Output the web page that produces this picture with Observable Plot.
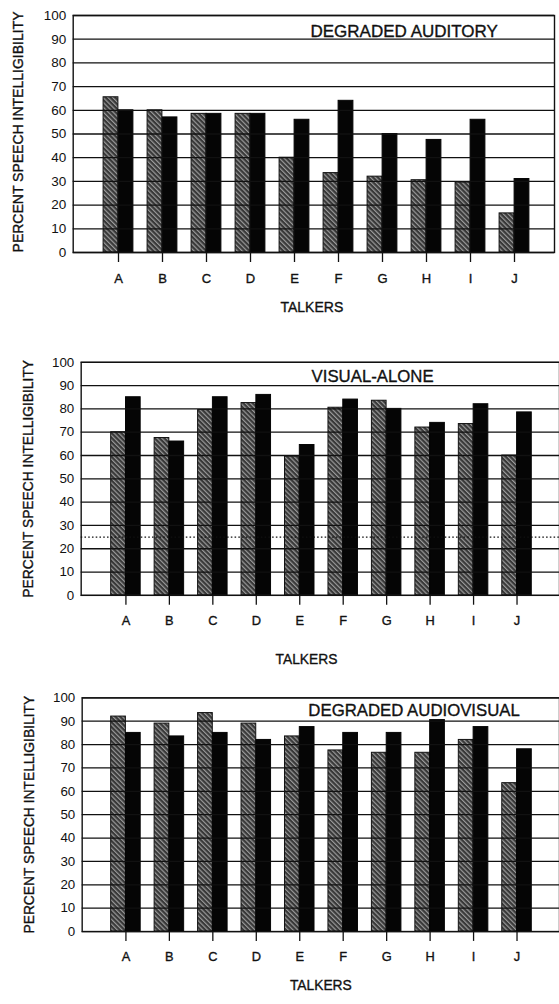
<!DOCTYPE html>
<html>
<head>
<meta charset="utf-8">
<script src="https://cdn.jsdelivr.net/npm/d3@7"></script>
<script src="https://cdn.jsdelivr.net/npm/@observablehq/plot@0.6"></script>
<style>
  html, body { margin: 0; padding: 0; background: #fff; overflow: hidden; width: 559px; }
  #charts svg { display: block; }
  #charts > div { width: 559px; overflow: hidden; }
</style>
</head>
<body>
<svg width="0" height="0" style="position:absolute">
  <defs>
    <pattern id="hatch" patternUnits="userSpaceOnUse" width="3.4" height="3.4" patternTransform="rotate(-45)">
      <rect width="3.4" height="3.4" fill="#383838"></rect>
      <rect width="1.2" height="3.4" fill="#9a9a9a"></rect>
    </pattern>
  </defs>
</svg>
<div id="charts"></div>
<script>
// ---- data ----
const talkers = ["A", "B", "C", "D", "E", "F", "G", "H", "I", "J"];
const yTicks = [0, 10, 20, 30, 40, 50, 60, 70, 80, 90, 100];

const auditoryHatched = [65.5, 60, 58.5, 58.5, 40, 33.5, 32, 30.5, 29.5, 16.5];
const auditoryBlack   = [60, 57, 58.5, 58.5, 56, 64, 50, 47.5, 56, 31];

const visualHatched = [70, 67.5, 79.5, 82.5, 59.5, 80.5, 83.5, 72, 73.5, 60];
const visualBlack   = [85, 66, 85, 86, 64.5, 84, 80, 74, 82, 78.5];
const visualChance  = [25];

const avHatched = [92, 89, 93.5, 89, 83.5, 77.5, 76.5, 76.5, 82, 63.5];
const avBlack   = [85, 83.5, 85, 82, 87.5, 85, 85, 90.5, 87.5, 78];

const yLabel = "PERCENT SPEECH INTELLIGIBILITY";
const xLabel = "TALKERS";
const titles = ["DEGRADED AUDITORY", "VISUAL-ALONE", "DEGRADED AUDIOVISUAL"];

// ---- drawing ----
const font = "'Liberation Sans', Arial, Helvetica, sans-serif";
const ink = "#111";
const thick = {stroke: ink, strokeWidth: 0.35};

function panel(o) {
  const hatchedRows = talkers.map((t, i) => ({talker: t, value: o.hatched[i]}));
  const blackRows = talkers.map((t, i) => ({talker: t, value: o.black[i]}));
  const bw = (o.xRange[1] - o.xRange[0]) / talkers.length;
  const barW = 15;
  return Plot.plot({
    width: o.width,
    height: o.height,
    marginTop: o.marginTop,
    marginBottom: o.marginBottom,
    marginLeft: o.marginLeft,
    marginRight: o.marginRight,
    style: {fontFamily: font, fontSize: "13px", color: ink, background: "#fff"},
    x: {type: "band", domain: talkers, range: o.xRange, padding: 0, axis: null},
    y: {domain: [0, 100], axis: null},
    marks: [
      Plot.barY(hatchedRows, {x: "talker", y: "value", fill: "url(#hatch)", stroke: ink, strokeWidth: 1,
        insetLeft: bw / 2 - barW, insetRight: bw / 2}),
      Plot.barY(blackRows, {x: "talker", y: "value", fill: "#050505", stroke: "#050505", strokeWidth: 1,
        insetLeft: bw / 2, insetRight: bw / 2 - barW}),
      Plot.ruleY(yTicks, {stroke: ink, strokeWidth: 1.3}),
      o.chance ? Plot.ruleY(o.chance, {stroke: ink, strokeWidth: 1.3, strokeDasharray: "1.6,2.2"}) : null,
      Plot.frame({stroke: ink, strokeWidth: 1.4}),
      Plot.axisY(yTicks, {tickSize: 0, tickPadding: 7, fontSize: 13.5, label: null, ...thick}),
      Plot.axisX(talkers, {tickSize: 10, tickFormat: null, strokeWidth: 1.3, label: null}),
      Plot.text(talkers, {x: d => d, frameAnchor: "bottom", lineAnchor: "top", dy: 21, fontSize: 13,
        fill: ink, ...thick}),
      Plot.text([o.title], {frameAnchor: "top-left", textAnchor: "start", lineAnchor: "middle",
        dx: o.titleDx, dy: o.titleDy, fontSize: 17, fill: ink, ...thick}),
      Plot.text([xLabel], {frameAnchor: "bottom", textAnchor: "middle", lineAnchor: "middle",
        dx: o.xlDx, dy: o.xlDy, fontSize: 14, fill: ink, ...thick}),
      Plot.text([yLabel], {frameAnchor: "left", textAnchor: "middle", rotate: -90, lineAnchor: "middle",
        dx: o.ylDx, dy: o.ylDy, fontSize: 14, fill: ink, ...thick})
    ]
  });
}

const container = document.getElementById("charts");
const specs = [
  {hatched: auditoryHatched, black: auditoryBlack, title: titles[0],
   width: 559, height: 320, marginTop: 15, marginBottom: 68, marginLeft: 72.7, marginRight: 5,
   xRange: [94.6, 536.6], titleDx: 237.3, titleDy: 16, xlDx: -2, xlDy: 54.7, ylDx: -54.4, ylDy: -2},
  {hatched: visualHatched, black: visualBlack, chance: visualChance, title: titles[1],
   width: 566, height: 355, marginTop: 42.3, marginBottom: 76.7, marginLeft: 81.7, marginRight: 0,
   xRange: [103.9, 545.3], titleDx: 233.3, titleDy: 14.4, xlDx: -14, xlDy: 64.7, ylDx: -53.4, ylDy: 0},
  {hatched: avHatched, black: avBlack, title: titles[2],
   width: 566, height: 329, marginTop: 26.7, marginBottom: 65.7, marginLeft: 82.7, marginRight: 0,
   xRange: [104.95, 546], titleDx: 229, titleDy: 13.3, xlDx: 0, xlDy: 55, ylDx: -53.4, ylDy: 0}
];
for (const s of specs) {
  const wrap = document.createElement("div");
  wrap.appendChild(panel(s));
  container.appendChild(wrap);
}
</script>
</body>
</html>
